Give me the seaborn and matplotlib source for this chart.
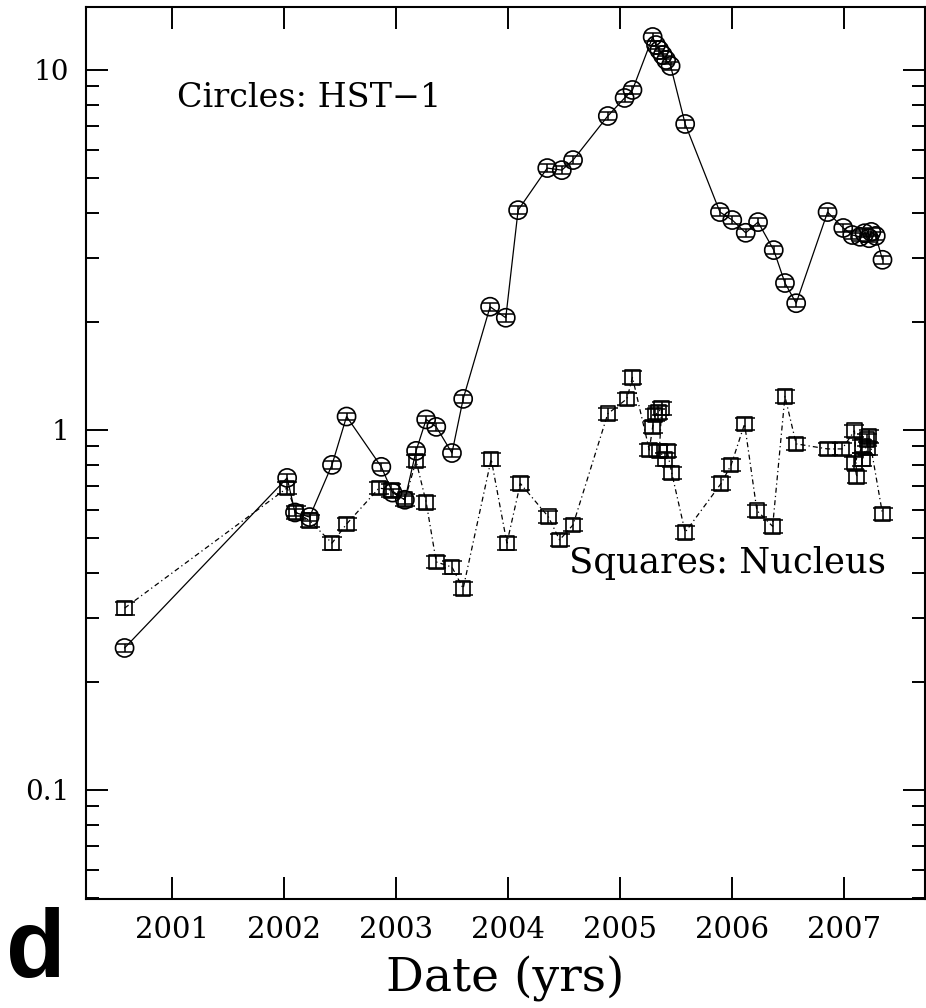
import numpy as np
import pandas as pd
import matplotlib
matplotlib.use("Agg")
import matplotlib.pyplot as plt
import seaborn as sns

# ---------------- data ----------------
hst1_year = [2000.58, 2002.03, 2002.10, 2002.23, 2002.43, 2002.56, 2002.87, 2002.97,
             2003.08, 2003.18, 2003.27, 2003.36, 2003.50, 2003.60, 2003.84, 2003.98,
             2004.09, 2004.35, 2004.48, 2004.58, 2004.89, 2005.04, 2005.11,
             2005.29, 2005.32, 2005.35, 2005.38, 2005.41, 2005.45,
             2005.58, 2005.89, 2006.00, 2006.12, 2006.23, 2006.37, 2006.47, 2006.57,
             2006.85, 2006.99, 2007.07, 2007.14, 2007.18, 2007.22, 2007.24, 2007.28,
             2007.34]
hst1_flux = [0.248, 0.736, 0.59, 0.573, 0.80, 1.09, 0.79, 0.67,
             0.64, 0.875, 1.07, 1.02, 0.863, 1.22, 2.2, 2.05,
             4.08, 5.34, 5.27, 5.62, 7.45, 8.36, 8.8,
             12.35, 11.73, 11.36, 11.0, 10.66, 10.26,
             7.08, 4.03, 3.83, 3.53, 3.78, 3.16, 2.56, 2.25,
             4.03, 3.64, 3.48, 3.44, 3.52, 3.41, 3.55, 3.46,
             2.97]

nuc_year = [2000.58, 2002.03, 2002.11, 2002.23, 2002.43, 2002.56, 2002.85, 2002.96,
            2003.08, 2003.18, 2003.27, 2003.36, 2003.50, 2003.60, 2003.85, 2003.99,
            2004.11, 2004.36, 2004.46, 2004.58, 2004.89, 2005.06, 2005.11,
            2005.26, 2005.29, 2005.31, 2005.34, 2005.37, 2005.35, 2005.40, 2005.42, 2005.46,
            2005.58, 2005.90, 2005.99, 2006.11, 2006.22, 2006.36, 2006.47, 2006.57,
            2006.85, 2006.98, 2007.09, 2007.11, 2007.09, 2007.16, 2007.20, 2007.21,
            2007.16, 2007.22, 2007.34]
nuc_flux = [0.32, 0.69, 0.59, 0.56, 0.485, 0.548, 0.69, 0.68,
            0.64, 0.82, 0.63, 0.43, 0.416, 0.363, 0.83, 0.485,
            0.71, 0.574, 0.495, 0.545, 1.11, 1.22, 1.40,
            0.88, 1.02, 1.10, 1.12, 1.15, 0.875, 0.83, 0.875, 0.76,
            0.52, 0.71, 0.80, 1.04, 0.597, 0.54, 1.24, 0.915,
            0.886, 0.886, 0.995, 0.74, 0.81, 0.90, 0.94, 0.89,
            0.83, 0.96, 0.585]

x_ticks = [2001, 2002, 2003, 2004, 2005, 2006, 2007]
y_ticks = [0.1, 1, 10]
y_tick_labels = ["0.1", "1", "10"]

hst_df = pd.DataFrame({"year": hst1_year, "flux": hst1_flux})
nuc_df = pd.DataFrame({"year": nuc_year, "flux": nuc_flux})

# ---------------- figure ----------------
sns.set_style("ticks")
plt.rcParams["font.family"] = ["DejaVu Serif"]
plt.rcParams["text.color"] = "black"
plt.rcParams["axes.labelcolor"] = "black"
plt.rcParams["xtick.color"] = "black"
plt.rcParams["ytick.color"] = "black"
plt.rcParams["xtick.labelcolor"] = "black"
plt.rcParams["ytick.labelcolor"] = "black"

fig = plt.figure(figsize=(9.26, 10.08), dpi=100)
ax = fig.add_axes([86 / 926, 1 - 899 / 1008, (925 - 86) / 926, (899 - 7) / 1008])
ax.set_yscale("log")

# lines
sns.lineplot(data=hst_df, x="year", y="flux", ax=ax, sort=False, estimator=None,
             color="black", linewidth=0.9)
sns.lineplot(data=nuc_df, x="year", y="flux", ax=ax, sort=False, estimator=None,
             color="black", linewidth=0.9, linestyle=(0, (4, 2.5, 1, 2.5)))

# error bars (small)
ax.errorbar(hst_df["year"], hst_df["flux"], yerr=hst_df["flux"] * 0.025, fmt="none",
            ecolor="black", elinewidth=1.1, capsize=5.5, capthick=1.1)
ax.errorbar(nuc_df["year"], nuc_df["flux"], yerr=nuc_df["flux"] * 0.04, fmt="none",
            ecolor="black", elinewidth=1.1, capsize=7, capthick=1.1)

# markers
sns.scatterplot(data=hst_df, x="year", y="flux", ax=ax, marker="o", s=170,
                facecolor="none", edgecolor="black", linewidth=1.2, zorder=4)
sns.scatterplot(data=nuc_df, x="year", y="flux", ax=ax, marker="s", s=110,
                facecolor="none", edgecolor="black", linewidth=1.2, zorder=4)

ax.set_xlim(2000.236, 2007.719)
ax.set_ylim(0.0498, 14.96)

ax.set_xticks(x_ticks)
ax.set_xticklabels([str(t) for t in x_ticks])
ax.set_yticks(y_ticks)
ax.set_yticklabels(y_tick_labels)
ax.yaxis.set_minor_locator(matplotlib.ticker.LogLocator(base=10, subs=np.arange(2, 10)))
ax.yaxis.set_minor_formatter(matplotlib.ticker.NullFormatter())

ax.tick_params(axis="both", which="major", direction="in", length=16, width=1.4,
               top=True, right=True, color="black", labelcolor="black")
ax.tick_params(axis="y", which="minor", direction="in", length=9.5, width=1.4,
               left=True, right=True, color="black")
ax.tick_params(axis="x", which="major", labelsize=21, pad=12)
ax.tick_params(axis="y", which="major", labelsize=20, pad=12)
for sp in ax.spines.values():
    sp.set_visible(True)
    sp.set_linewidth(1.5)
    sp.set_color("black")

ax.set_xlabel("Date (yrs)", fontsize=34, labelpad=9, color="black")
ax.set_ylabel("")

ax.text(2002.23, 7.89, "Circles: HST\u22121", fontsize=24, ha="center", va="baseline",
        color="black")
ax.text(2005.96, 0.40, "Squares: Nucleus", fontsize=25.5, ha="center", va="baseline",
        color="black")

fig.text(65 / 926, 1 - 977 / 1008, "d", fontsize=70, fontweight="bold",
         family="Liberation Sans", ha="right", va="baseline", color="black")

fig.savefig("out.png", dpi=100)
